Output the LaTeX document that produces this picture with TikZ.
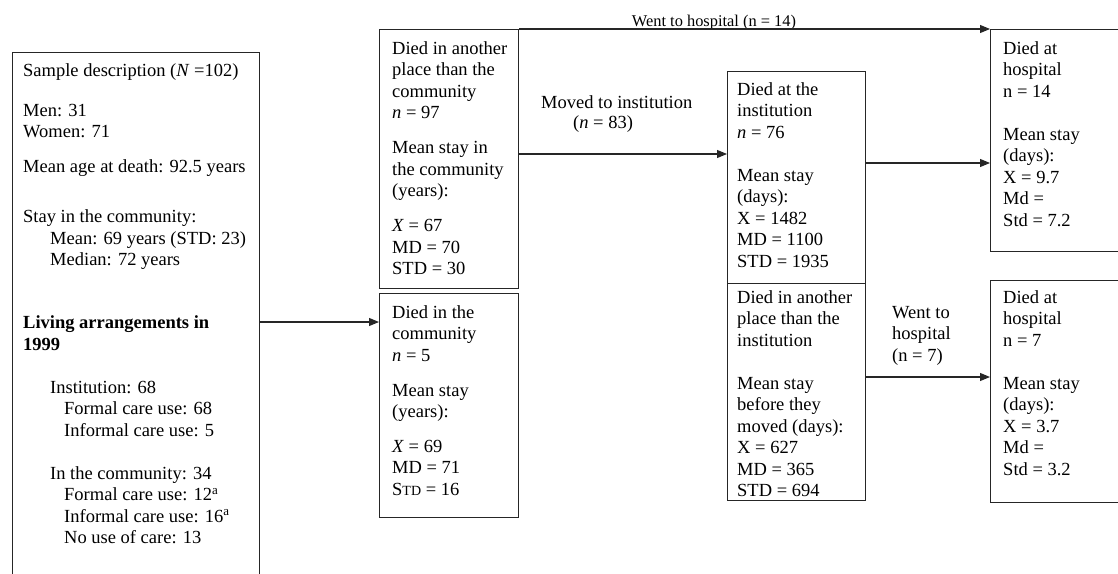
\documentclass[tikz,border=0pt]{standalone}
\usepackage{fontspec}
\setmainfont{Liberation Serif}
\usetikzlibrary{arrows.meta,calc}
\newcommand{\mystrut}{\rule{0pt}{14pt}}
\begin{document}
\begin{tikzpicture}[x=1pt,y=-1pt,
  box/.style={draw=black!85,line width=1.1pt,anchor=north west,inner sep=0pt},
  txt/.style={anchor=north west,align=left,inner sep=0pt,font=\fontsize{18.5}{21.5}\selectfont},
  lbl/.style={anchor=base,inner sep=0pt,font=\fontsize{16.4}{19}\selectfont},
  arr/.style={draw=black!85,line width=1.1pt,-{Triangle[length=10pt,width=8pt]}},
]
\useasboundingbox (0,0) rectangle (1118,573);
% boxes
\node[box,minimum width=247pt,minimum height=540pt] (L) at (11.7,52) {};
\node[box,minimum width=139pt,minimum height=259pt] (A) at (379,29) {};
\node[box,minimum width=139pt,minimum height=224pt] (B) at (379,293) {};
\node[box,minimum width=138pt,minimum height=212pt] (C) at (727,71) {};
\node[box,minimum width=138pt,minimum height=217pt] (D) at (727,283) {};
\node[box,minimum width=150pt,minimum height=222pt] (E) at (990,29) {};
\node[box,minimum width=150pt,minimum height=222pt] (F) at (990,280) {};
% texts (y = first baseline - 14)
\node[txt] (Lt) at (23,62) {\mystrut Sample description (\textit{N} =102)\\[18.5pt]
Men: 31\\
Women: 71\\[13.5pt]
Mean age at death: 92.5 years\\[28.5pt]
Stay in the community:\\
\hspace*{27pt}Mean: 69 years (STD: 23)\\
\hspace*{27pt}Median: 72 years\\[41.5pt]
\textbf{Living arrangements in}\\
\textbf{1999}\\[21.5pt]
\hspace*{27pt}Institution: 68\\
\hspace*{41pt}Formal care use: 68\\
\hspace*{41pt}Informal care use: 5\\[21.5pt]
\hspace*{27pt}In the community: 34\\
\hspace*{41pt}Formal care use: 12\textsuperscript{a}\\
\hspace*{41pt}Informal care use: 16\textsuperscript{a}\\
\hspace*{41pt}No use of care: 13};
\node[txt] (At) at (392,40) {\mystrut Died in another\\ place than the\\ community\\ \textit{n} = 97\\[13.5pt]
Mean stay in\\ the community\\ (years):\\[13.5pt]
\textit{X} = 67\\ MD = 70\\ STD = 30};
\node[txt] (Bt) at (392,304) {\mystrut Died in the\\ community\\ \textit{n} = 5\\[13.5pt]
Mean stay\\ (years):\\[13pt]
\textit{X} = 69\\ MD = 71\\ S{\fontsize{14}{21.5}\selectfont TD} = 16};
\node[txt] (Ct) at (737,81) {\mystrut Died at the\\ institution\\ \textit{n} = 76\\[21.5pt]
Mean stay\\ (days):\\ X = 1482\\ MD = 1100\\ STD = 1935};
\node[txt] (Dt) at (737,289) {\mystrut Died in another\\ place than the\\ institution\\[21.5pt]
Mean stay\\ before they\\ moved (days):\\ X = 627\\ MD = 365\\ STD = 694};
\node[txt] (Et) at (1003,40) {\mystrut Died at\\ hospital\\ n = 14\\[21.5pt]
Mean stay\\ (days):\\ X = 9.7\\ Md =\\ Std = 7.2};
\node[txt] (Ft) at (1003,289) {\mystrut Died at\\ hospital\\ n = 7\\[21.5pt]
Mean stay\\ (days):\\ X = 3.7\\ Md =\\ Std = 3.2};
% labels
\node[lbl] (lE) at (714,26) {Went to hospital (n = 14)};
\node[txt] (lAC) at (541,94) {\mystrut Moved to institution\\[-1.5pt]\hspace*{32pt}(\textit{n} = 83)};
\node[txt] (lDF) at (892,304) {\mystrut Went to\\ hospital\\ (n = 7)};
% connectors
\coordinate (yLB) at (0,322);
\coordinate (yAC) at (0,154);
\coordinate (yCE) at (0,163);
\coordinate (yDF) at (0,377);
\draw[arr] (L.east |- yLB) -- (B.west |- yLB);
\draw[arr] (A.east |- yAC) -- (C.west |- yAC);
\draw[arr] (A.north east) -- (E.north west);
\draw[arr] (C.east |- yCE) -- (E.west |- yCE);
\draw[arr] (D.east |- yDF) -- (F.west |- yDF);
\end{tikzpicture}
\end{document}
